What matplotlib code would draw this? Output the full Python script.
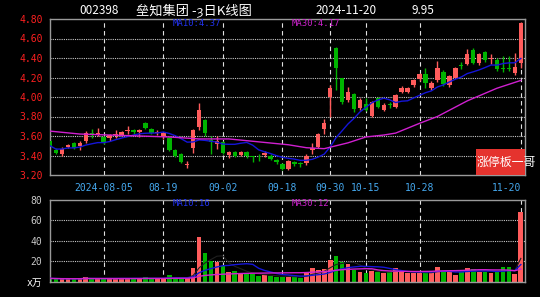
import matplotlib
matplotlib.use('Agg')
import matplotlib.pyplot as plt
import matplotlib.patches as patches
import numpy as np
import pandas as pd

# daily K-line, 2024-07-23 .. 2024-11-20 (80 trading days)
opens = [3.55, 3.46, 3.42, 3.49, 3.53, 3.50, 3.55, 3.63, 3.61, 3.59,
         3.58, 3.61, 3.61, 3.65, 3.66, 3.64, 3.73, 3.67, 3.63, 3.59,
         3.58, 3.46, 3.42, 3.30, 3.48, 3.69, 3.76, 3.56, 3.52, 3.54,
         3.41, 3.44, 3.41, 3.44, 3.39, 3.40, 3.41, 3.40, 3.35, 3.31,
         3.26, 3.33, 3.32, 3.32, 3.46, 3.49, 3.67, 4.00, 4.50, 4.19,
         3.97, 4.03, 3.89, 3.93, 3.81, 3.99, 3.87, 3.93, 3.90, 4.05,
         4.05, 4.12, 4.18, 4.24, 4.09, 4.17, 4.26, 4.12, 4.20, 4.33,
         4.34, 4.48, 4.35, 4.46, 4.39, 4.38, 4.30, 4.30, 4.25, 4.35]
closes = [3.50, 3.43, 3.47, 3.51, 3.48, 3.53, 3.63, 3.61, 3.63, 3.53,
          3.61, 3.62, 3.64, 3.66, 3.64, 3.66, 3.68, 3.63, 3.64, 3.63,
          3.46, 3.39, 3.33, 3.31, 3.66, 3.87, 3.63, 3.54, 3.55, 3.43,
          3.44, 3.39, 3.44, 3.39, 3.38, 3.39, 3.43, 3.36, 3.33, 3.26,
          3.34, 3.31, 3.31, 3.40, 3.48, 3.62, 3.73, 4.09, 4.30, 3.95,
          4.05, 3.88, 3.97, 3.87, 3.95, 3.90, 3.92, 3.92, 4.02, 4.09,
          4.09, 4.17, 4.24, 4.14, 4.14, 4.30, 4.13, 4.22, 4.30, 4.32,
          4.44, 4.35, 4.44, 4.38, 4.40, 4.29, 4.29, 4.29, 4.31, 4.76]
highs = [3.57, 3.48, 3.49, 3.52, 3.54, 3.55, 3.65, 3.67, 3.68, 3.60,
         3.62, 3.66, 3.65, 3.70, 3.67, 3.67, 3.74, 3.68, 3.66, 3.64,
         3.59, 3.47, 3.43, 3.34, 3.67, 3.94, 3.77, 3.60, 3.60, 3.55,
         3.45, 3.45, 3.45, 3.45, 3.40, 3.42, 3.45, 3.42, 3.36, 3.32,
         3.35, 3.34, 3.33, 3.42, 3.53, 3.63, 3.77, 4.12, 4.51, 4.20,
         4.10, 4.04, 3.99, 3.99, 3.96, 4.00, 3.94, 3.95, 4.03, 4.11,
         4.10, 4.18, 4.25, 4.30, 4.16, 4.37, 4.28, 4.23, 4.31, 4.36,
         4.49, 4.50, 4.45, 4.47, 4.44, 4.40, 4.42, 4.42, 4.45, 4.77]
lows = [3.48, 3.42, 3.40, 3.48, 3.47, 3.46, 3.53, 3.58, 3.60, 3.52,
        3.55, 3.58, 3.60, 3.62, 3.62, 3.59, 3.67, 3.62, 3.61, 3.57,
        3.45, 3.38, 3.32, 3.27, 3.43, 3.66, 3.60, 3.42, 3.47, 3.42,
        3.37, 3.38, 3.40, 3.37, 3.33, 3.34, 3.38, 3.35, 3.31, 3.25,
        3.25, 3.29, 3.28, 3.30, 3.42, 3.48, 3.62, 3.80, 4.07, 3.93,
        3.95, 3.85, 3.87, 3.86, 3.80, 3.89, 3.86, 3.89, 3.89, 4.04,
        4.04, 4.10, 4.16, 4.09, 4.07, 4.15, 4.11, 4.10, 4.19, 4.29,
        4.33, 4.34, 4.33, 4.36, 4.34, 4.27, 4.26, 4.27, 4.23, 4.30]
# volume in 10k lots
volumes = [3.5, 3.2, 3.0, 3.2, 3.0, 3.3, 4.8, 3.0, 3.3, 3.2,
           3.5, 3.4, 3.5, 3.3, 3.4, 3.5, 4.6, 3.5, 3.4, 3.6,
           6.5, 3.6, 3.8, 3.5, 13.6, 43.5, 28.0, 20.5, 19.5, 15.5,
           9.5, 11.0, 8.7, 7.5, 7.5, 5.5, 6.5, 6.0, 5.0, 5.0,
           5.0, 5.0, 4.0, 9.0, 14.0, 11.5, 13.0, 21.5, 25.0, 19.0,
           17.0, 12.0, 10.0, 8.7, 11.0, 10.0, 8.7, 10.0, 13.6, 9.4,
           8.7, 8.7, 8.7, 9.7, 9.4, 14.5, 11.0, 10.0, 7.0, 9.4,
           13.6, 13.0, 10.0, 9.4, 9.0, 9.5, 14.5, 14.5, 8.0, 68.0]

# MA30 of price (needs history before the window)
ma30_idx = [0, 5, 10, 15, 20, 25, 30, 35, 40, 43, 46, 48, 50, 53, 56, 58,
            60, 62, 65, 70, 75, 79]
ma30_val = [3.65, 3.62, 3.61, 3.60, 3.59, 3.57, 3.57, 3.54, 3.51, 3.48, 3.47,
            3.50, 3.53, 3.59, 3.61, 3.63, 3.68, 3.73, 3.80, 3.96, 4.09, 4.17]

tick_idx = [9, 19, 29, 39, 47, 53, 62, 79]
tick_labels = ['2024-08-05', '08-19', '09-02', '09-18', '09-30', '10-15',
               '10-28', '11-20']
price_ticks = [3.20, 3.40, 3.60, 3.80, 4.00, 4.20, 4.40, 4.60, 4.80]
vol_ticks = [0, 20, 40, 60, 80]

UP = '#ff5c5c'
DOWN = '#00b400'
GRID = '#c8c8c8'
FRAME = '#9a9a9a'
MONO = ['DejaVu Sans Mono', 'Noto Sans CJK SC']
CJK = ['Noto Sans CJK SC', 'DejaVu Sans']

o = np.array(opens)
c = np.array(closes)
h = np.array(highs)
l = np.array(lows)
v = np.array(volumes)
x = np.arange(len(c))
colors = np.where(c >= o, UP, DOWN)

ma10 = pd.Series(c).rolling(10, min_periods=1).mean()
vma5 = pd.Series(v).rolling(5, min_periods=1).mean()
vma10 = pd.Series(v).rolling(10, min_periods=1).mean()
vma30 = pd.Series(v).rolling(30, min_periods=1).mean()

W, H = 540, 297
fig = plt.figure(figsize=(W / 100, H / 100), dpi=100, facecolor='black')
ax1 = fig.add_axes([49.5 / W, 1 - 175 / H, 475.5 / W, 156 / H])
ax2 = fig.add_axes([49.5 / W, 1 - 282 / H, 475.5 / W, 82.5 / H])

for ax in (ax1, ax2):
    ax.set_facecolor('black')
    ax.set_xlim(-0.1, 79.7)
    for s in ax.spines.values():
        s.set_color(FRAME)
        s.set_linewidth(1)
    ax.tick_params(length=0)
    for t in tick_idx:
        ax.axvline(t, color='#e0e0e0', lw=0.8, ls=(0, (4, 3)), zorder=0)

# price panel
for p in price_ticks[1:-1]:
    ax1.axhline(p, color=GRID, lw=0.8, ls=(0, (1, 1)), zorder=0)
ax1.vlines(x, l, h, colors=colors, lw=1, zorder=2)
body = np.maximum(np.abs(c - o), 0.008)
ax1.bar(x, body, bottom=np.minimum(o, c), width=0.75, color=colors,
        linewidth=0, zorder=3)
ax1.plot(x, ma10, color='#1515d8', lw=1, zorder=4)
ax1.plot(ma30_idx, ma30_val, color='#d020d0', lw=1, zorder=4)
ax1.set_ylim(3.20, 4.80)
ax1.set_yticks(price_ticks)
ax1.set_yticklabels(['%.2f' % p for p in price_ticks], color='#ff2020',
                    fontsize=7, family=MONO)
ax1.set_xticks(tick_idx)
ax1.set_xticklabels(tick_labels, color='#45a8ee', fontsize=7, family=MONO)
ax1.tick_params(axis='x', pad=6)
ax1.tick_params(axis='y', pad=5)
ax1.get_xticklabels()[-1].set_ha('right')

# volume panel
for p in vol_ticks[1:-1]:
    ax2.axhline(p, color=GRID, lw=0.8, ls=(0, (1, 1)), zorder=0)
ax2.bar(x, v, width=0.8, color=colors, linewidth=0, zorder=2)
ax2.plot(x, vma5, color='#202020', lw=0.8, zorder=3)
ax2.plot(x, vma10, color='#1515d8', lw=1, zorder=3)
ax2.plot(x, vma30, color='#d020d0', lw=1, zorder=3)
ax2.set_ylim(0, 80)
ax2.set_yticks(vol_ticks)
ax2.set_yticklabels(['x万', '20', '40', '60', '80'], color='#c8c8c8',
                    fontsize=7, family=MONO)
ax2.get_yticklabels()[0].set_color('white')
ax2.tick_params(axis='y', pad=5)
ax2.set_xticks([])


def ftext(px, py, s, **kw):
    fig.text(px / W, 1 - py / H, s, va='center', **kw)


ftext(79, 10, '002398', color='white', fontsize=8.5, family=CJK)
ftext(136, 10, '垒知集团 -ȝ日K线图', color='white', fontsize=9.5, family=CJK)
ftext(315, 10, '2024-11-20', color='white', fontsize=8.5, family=CJK)
ftext(412, 10, '9.95', color='white', fontsize=8.5, family=CJK)

ftext(173, 23, 'MA10:4.37', color='#2233ee', fontsize=6.5, family=MONO)
ftext(292, 23, 'MA30:4.17', color='#cc22cc', fontsize=6.5, family=MONO)
ftext(173, 204, 'MA10:16', color='#2233ee', fontsize=6.5, family=MONO)
ftext(292, 204, 'MA30:12', color='#cc22cc', fontsize=6.5, family=MONO)

fig.patches.append(patches.Rectangle((476 / W, 1 - 175 / H), 49 / W, 26 / H,
                                     transform=fig.transFigure,
                                     facecolor='#e5332e', zorder=5))
fig.text(477 / W, 1 - 162 / H, '涨停板一哥', color='white', fontsize=8.6,
         family=CJK, va='center', zorder=6)

fig.savefig('out.png', dpi=100, facecolor='black')
